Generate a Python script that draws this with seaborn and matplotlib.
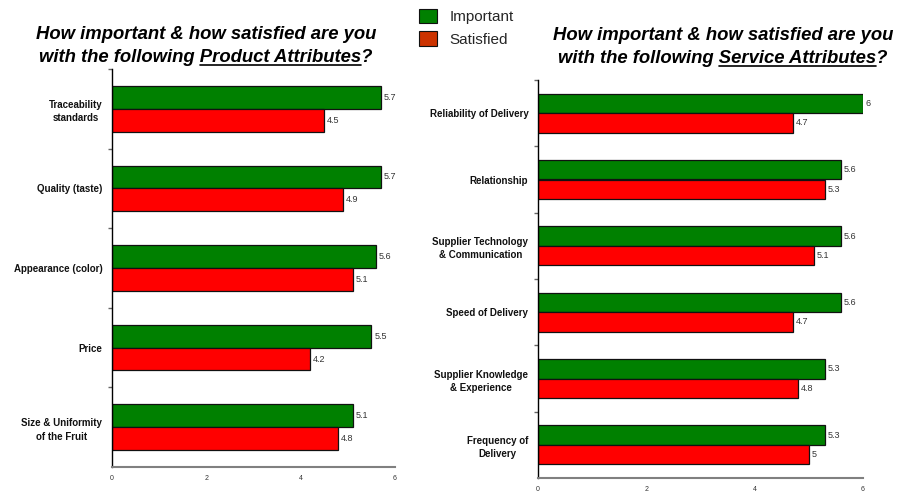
import matplotlib
matplotlib.use("Agg")
import matplotlib.pyplot as plt
from matplotlib.patches import Patch
from matplotlib.lines import Line2D
from matplotlib.ticker import FixedLocator
import seaborn as sns
import pandas as pd

# Product attributes
product_labels = ["Traceability\nstandards", "Quality (taste)", "Appearance (color)",
                  "Price", "Size & Uniformity\nof the Fruit"]
product_important = [5.7, 5.7, 5.6, 5.5, 5.1]
product_satisfied = [4.5, 4.9, 5.1, 4.2, 4.8]

# Service attributes
service_labels = ["Reliability of Delivery", "Relationship",
                  "Supplier Technology\n& Communication", "Speed of Delivery",
                  "Supplier Knowledge\n& Experience", "Frequency of\nDelivery"]
service_important = [6, 5.6, 5.6, 5.6, 5.3, 5.3]
service_satisfied = [4.7, 5.3, 5.1, 4.7, 4.8, 5]

series_names = ["Important", "Satisfied"]
x_ticks = [0, 2, 4, 6]

BAR_COLORS = {"Important": "#008000", "Satisfied": "#FF0000"}
LEGEND_COLORS = ["#008000", "#CC3300"]

sns.set_theme(style="white")
plt.rcParams["font.family"] = ["Liberation Sans", "DejaVu Sans"]

fig = plt.figure(figsize=(8.98, 4.94), dpi=100)
W, H = 898, 494


def long_frame(labels, imp, sat):
    rows = []
    for lab, a, b in zip(labels, imp, sat):
        rows.append({"attribute": lab, "series": series_names[0], "score": a})
        rows.append({"attribute": lab, "series": series_names[1], "score": b})
    return pd.DataFrame(rows)


def draw_panel(rect, labels, imp, sat, width):
    ax = fig.add_axes(rect)
    df = long_frame(labels, imp, sat)
    sns.barplot(data=df, y="attribute", x="score", hue="series", orient="h",
                palette=BAR_COLORS, saturation=1, width=width, gap=0,
                edgecolor="#111111", linewidth=0.9, legend=False, ax=ax,
                errorbar=None)
    n = len(labels)
    ax.set_xlim(0, 6)
    ax.set_ylim(n - 0.5, -0.5)
    ax.set_xlabel("")
    ax.set_ylabel("")
    ax.set_xticks(x_ticks)
    ax.set_xticklabels([str(t) for t in x_ticks], fontsize=5, color="#333333")
    ax.tick_params(axis="x", direction="out", length=3, width=1, color="#808080", pad=3)
    ax.set_yticks(range(n))
    ax.set_yticklabels(labels, fontsize=7, fontweight="bold", color="#111111",
                       multialignment="center", linespacing=1.45)
    ax.tick_params(axis="y", which="major", length=0, pad=7)
    ax.yaxis.set_minor_locator(FixedLocator([i - 0.5 for i in range(n)]))
    ax.tick_params(axis="y", which="minor", direction="out", length=3, width=1,
                   color="#666666", left=True)
    for s in ("top", "right"):
        ax.spines[s].set_visible(False)
    ax.spines["left"].set_color("#000000")
    ax.spines["left"].set_linewidth(1.0)
    ax.spines["bottom"].set_color("#808080")
    ax.spines["bottom"].set_linewidth(1.5)
    for cont in ax.containers:
        ax.bar_label(cont, fmt="%g", padding=2, fontsize=6.5, color="#333333")
    ax.grid(False)
    return ax


def px_rect(x0, x1, ytop, ybot):
    return [x0 / W, (H - ybot) / H, (x1 - x0) / W, (ybot - ytop) / H]


draw_panel(px_rect(112, 395, 69, 467), product_labels, product_important,
           product_satisfied, 0.575)
draw_panel(px_rect(538, 863, 80, 478), service_labels, service_important,
           service_satisfied, 0.59)

title_kw = dict(fontsize=13.3, fontweight="bold", fontstyle="italic", color="#000000")
renderer = fig.canvas.get_renderer()


def panel_title(cx_px, y1_px, y2_px, pre, mid, post):
    cx = cx_px / W
    fig.text(cx, 1 - y1_px / H, "How important & how satisfied are you",
             ha="center", va="baseline", **title_kw)
    full = pre + mid + post
    t = fig.text(cx, 1 - y2_px / H, full, ha="center", va="baseline", **title_kw)
    wfull = t.get_window_extent(renderer).width
    probe = fig.text(0, 0, pre + mid, **title_kw)
    wpm = probe.get_window_extent(renderer).width
    probe.remove()
    probe = fig.text(0, 0, mid, **title_kw)
    wm = probe.get_window_extent(renderer).width
    probe.remove()
    left = cx_px - wfull / 2
    x_end = left + wpm
    x_start = x_end - wm
    yu = 1 - (y2_px + 3.5) / H
    fig.add_artist(Line2D([x_start / W, x_end / W], [yu, yu], color="#000000",
                          linewidth=1.2, transform=fig.transFigure))


panel_title(206, 39, 61.5, "with the following ", "Product Attributes", "?")
panel_title(723, 40, 63, "with the following ", "Service Attributes", "?")

handles = [Patch(facecolor=c, edgecolor="#111111", linewidth=0.8) for c in LEGEND_COLORS]
fig.legend(handles, series_names, loc="upper left", bbox_to_anchor=(414 / W, 1 - 4 / H),
           frameon=False, fontsize=11, handlelength=1.2, handleheight=1.1,
           handletextpad=0.8, labelspacing=0.45, borderaxespad=0, borderpad=0.3)

fig.savefig("out.png", dpi=100)
